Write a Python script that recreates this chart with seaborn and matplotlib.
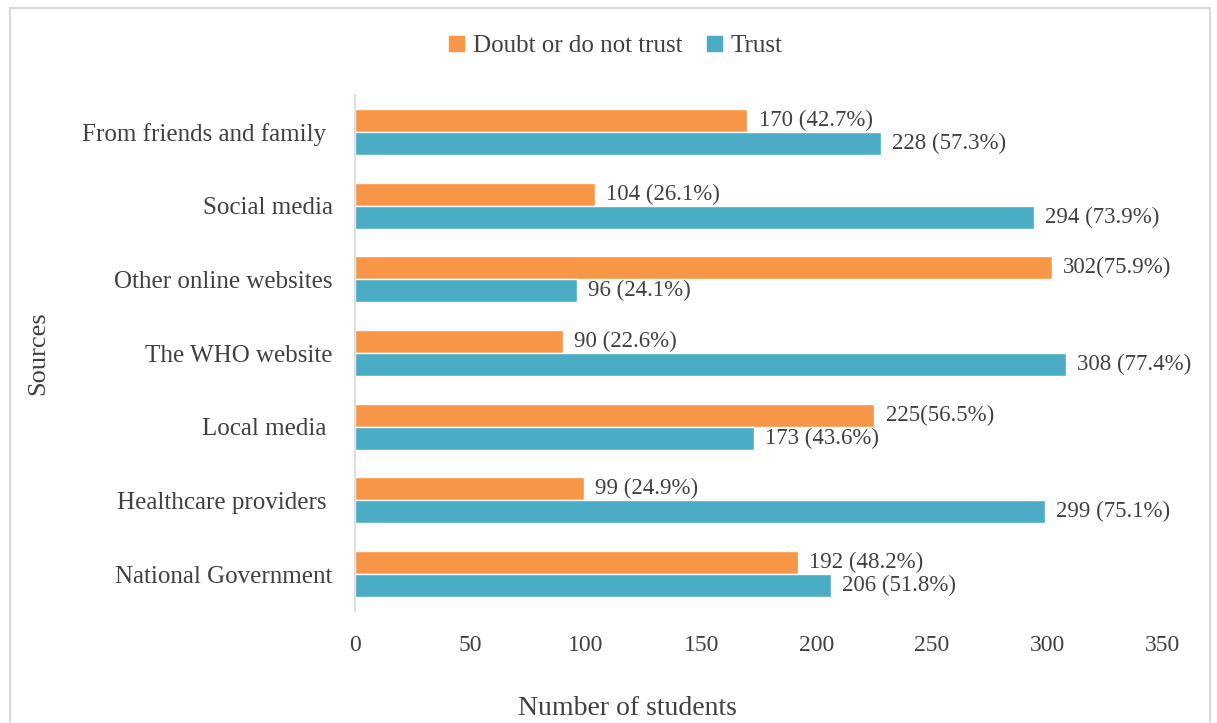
import matplotlib
matplotlib.use("Agg")
import matplotlib.pyplot as plt
from matplotlib.patches import Rectangle
import seaborn as sns
import pandas as pd

sources = ["From friends and family ", "Social media", "Other online websites",
           "The WHO website", "Local media ", "Healthcare providers ",
           "National Government"]
doubt = [170, 104, 302, 90, 225, 99, 192]
trust = [228, 294, 96, 308, 173, 299, 206]
doubt_pct = ["42.7", "26.1", "75.9", "22.6", "56.5", "24.9", "48.2"]
trust_pct = ["57.3", "73.9", "24.1", "77.4", "43.6", "75.1", "51.8"]
doubt_sep = [" ", " ", "", " ", "", " ", " "]
trust_sep = [" "] * 7
series = ["Doubt or do not trust", "Trust"]
colors = ["#F79646", "#4BACC6"]

df = pd.DataFrame({
    "Sources": sources * 2,
    "Count": doubt + trust,
    "Group": [series[0]] * 7 + [series[1]] * 7,
})

sns.set_theme(style="white")
plt.rcParams["font.family"] = ["Liberation Serif", "DejaVu Serif"]
text_color = "#404040"

fig = plt.figure(figsize=(12.17, 7.23), dpi=100)
ax = fig.add_axes([0.2917, 0.1549, 0.9556 - 0.2917, 0.8686 - 0.1549])

sns.barplot(data=df, y="Sources", x="Count", hue="Group", order=sources,
            hue_order=series, palette=colors, orient="h", width=0.625,
            saturation=1, ax=ax, legend=False)

labels = [[f"{v}{s}({p}%)" for v, s, p in zip(doubt, doubt_sep, doubt_pct)],
          [f"{v}{s}({p}%)" for v, s, p in zip(trust, trust_sep, trust_pct)]]
for cont, labs in zip(ax.containers, labels):
    ax.bar_label(cont, labels=labs, padding=8, fontsize=16.5, color=text_color)

ax.set_xlim(0, 350)
ax.set_xticks(range(0, 351, 50))
ax.tick_params(axis="x", labelsize=17, colors=text_color, length=0, pad=17)
ax.tick_params(axis="y", labelsize=18, colors=text_color, length=0, pad=16)
for s in ["top", "right", "bottom"]:
    ax.spines[s].set_visible(False)
ax.spines["left"].set_color("#d9d9d9")
ax.spines["left"].set_linewidth(1.2)

ax.set_xlabel("Number of students", fontsize=20, color=text_color)
ax.xaxis.set_label_coords(0.337, -0.165)
ax.set_ylabel("Sources", fontsize=19, color=text_color)
ax.yaxis.set_label_coords(-0.378, 0.5)

handles = [Rectangle((0, 0), 1, 1, color=c) for c in colors]
fig.legend(handles, series, loc="center", bbox_to_anchor=(0.506, 0.936),
           ncol=2, frameon=False, fontsize=18, handlelength=0.6,
           handleheight=0.6, handletextpad=0.35, columnspacing=1.0,
           labelcolor=text_color)

fig.patches.append(Rectangle((0.008, -0.01), 0.986, 0.999, transform=fig.transFigure,
                             fill=False, edgecolor="#d9d9d9", linewidth=1.5))

fig.savefig("out.png", dpi=100)
